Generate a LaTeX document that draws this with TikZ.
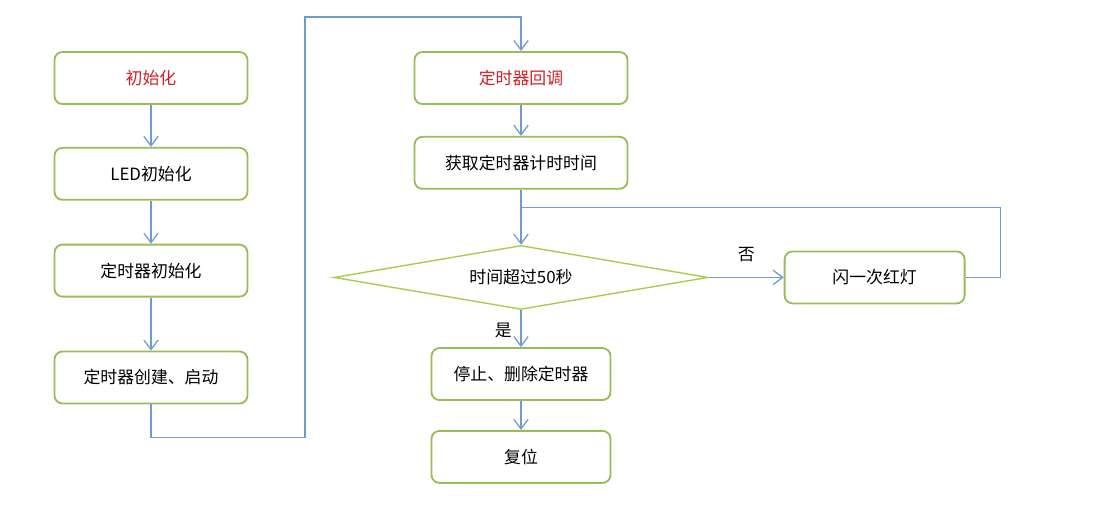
\documentclass[tikz,border=0pt]{standalone}
\usepackage{fontspec}
\newfontfamily\cjk{Noto Sans CJK SC}
\usepackage{xcolor}
\usetikzlibrary{arrows.meta,positioning,shapes.geometric,calc}
\definecolor{boxgreen}{RGB}{155,187,89}
\definecolor{dmgreen}{RGB}{170,205,80}
\definecolor{lnblue}{RGB}{110,155,210}
\definecolor{txtred}{RGB}{210,30,40}

\begin{document}
\begin{tikzpicture}[
  n/.style={draw=boxgreen, line width=1.3pt, rounded corners=2mm, fill=white,
    minimum width=48.25mm, minimum height=13mm, font=\cjk\fontsize{12}{14}\selectfont},
  wide/.style={n, minimum width=53.25mm},
  mid/.style={n, minimum width=45mm},
  hot/.style={n, text=txtred},
  dm/.style={diamond, draw=dmgreen, line width=1pt, aspect=5.8, inner sep=0pt,
    minimum width=93.5mm, minimum height=16mm, font=\cjk\fontsize{12}{14}\selectfont},
  ar/.style={draw=lnblue, line width=0.9pt, -{Straight Barb[length=2.4mm,width=3.6mm]}},
  ln/.style={draw=lnblue, line width=0.9pt},
  lb/.style={font=\cjk\fontsize{12}{14}\selectfont}
]
\useasboundingbox (0,0) rectangle (279.75mm,-128mm);
% left column
\node[hot] (init) at (37.75mm,-19.5mm) {初始化};
\node[n, below=10.5mm of init] (led) {LED初始化};
\node[n, below=10.75mm of led] (tinit) {定时器初始化};
\node[n, below=13.25mm of tinit] (create) {定时器创建、启动};
\draw[ar] (init) -- (led);
\draw[ar] (led) -- (tinit);
\draw[ar] (tinit) -- (create);
% right column
\node[wide, text=txtred] (cb) at (130.25mm,-19.5mm) {定时器回调};
\node[wide, below=7.75mm of cb] (time) {获取定时器计时时间};
\node[dm, below=13.75mm of time] (cmp) {时间超过50秒};
\node[mid, right=18.75mm of cmp] (flash) {闪一次红灯};
\node[mid, minimum width=44.75mm, below=9.25mm of cmp] (stop) {停止、删除定时器};
\node[mid, minimum width=44.75mm, below=7.25mm of stop] (reset) {复位};
\coordinate[above=8.5mm of cb.north] (top);
\coordinate[below=4.5mm of time.south] (join);
% connectors
\draw[ar] (create.south) -- ++(0,-8.25mm) -| ([xshift=-54mm]top) -- (top) -- (cb.north);
\draw[ar] (cb) -- (time);
\draw[ar] (time) -- (cmp);
\draw[ar] (cmp) -- node[lb, above=2.5mm]{否} (flash);
\draw[ln] (flash.east) -- ++(8.75mm,0) |- (join);
\draw[ar] (cmp) -- node[lb, left=1mm, pos=0.55]{是} (stop);
\draw[ar] (stop) -- (reset);
\end{tikzpicture}
\end{document}
